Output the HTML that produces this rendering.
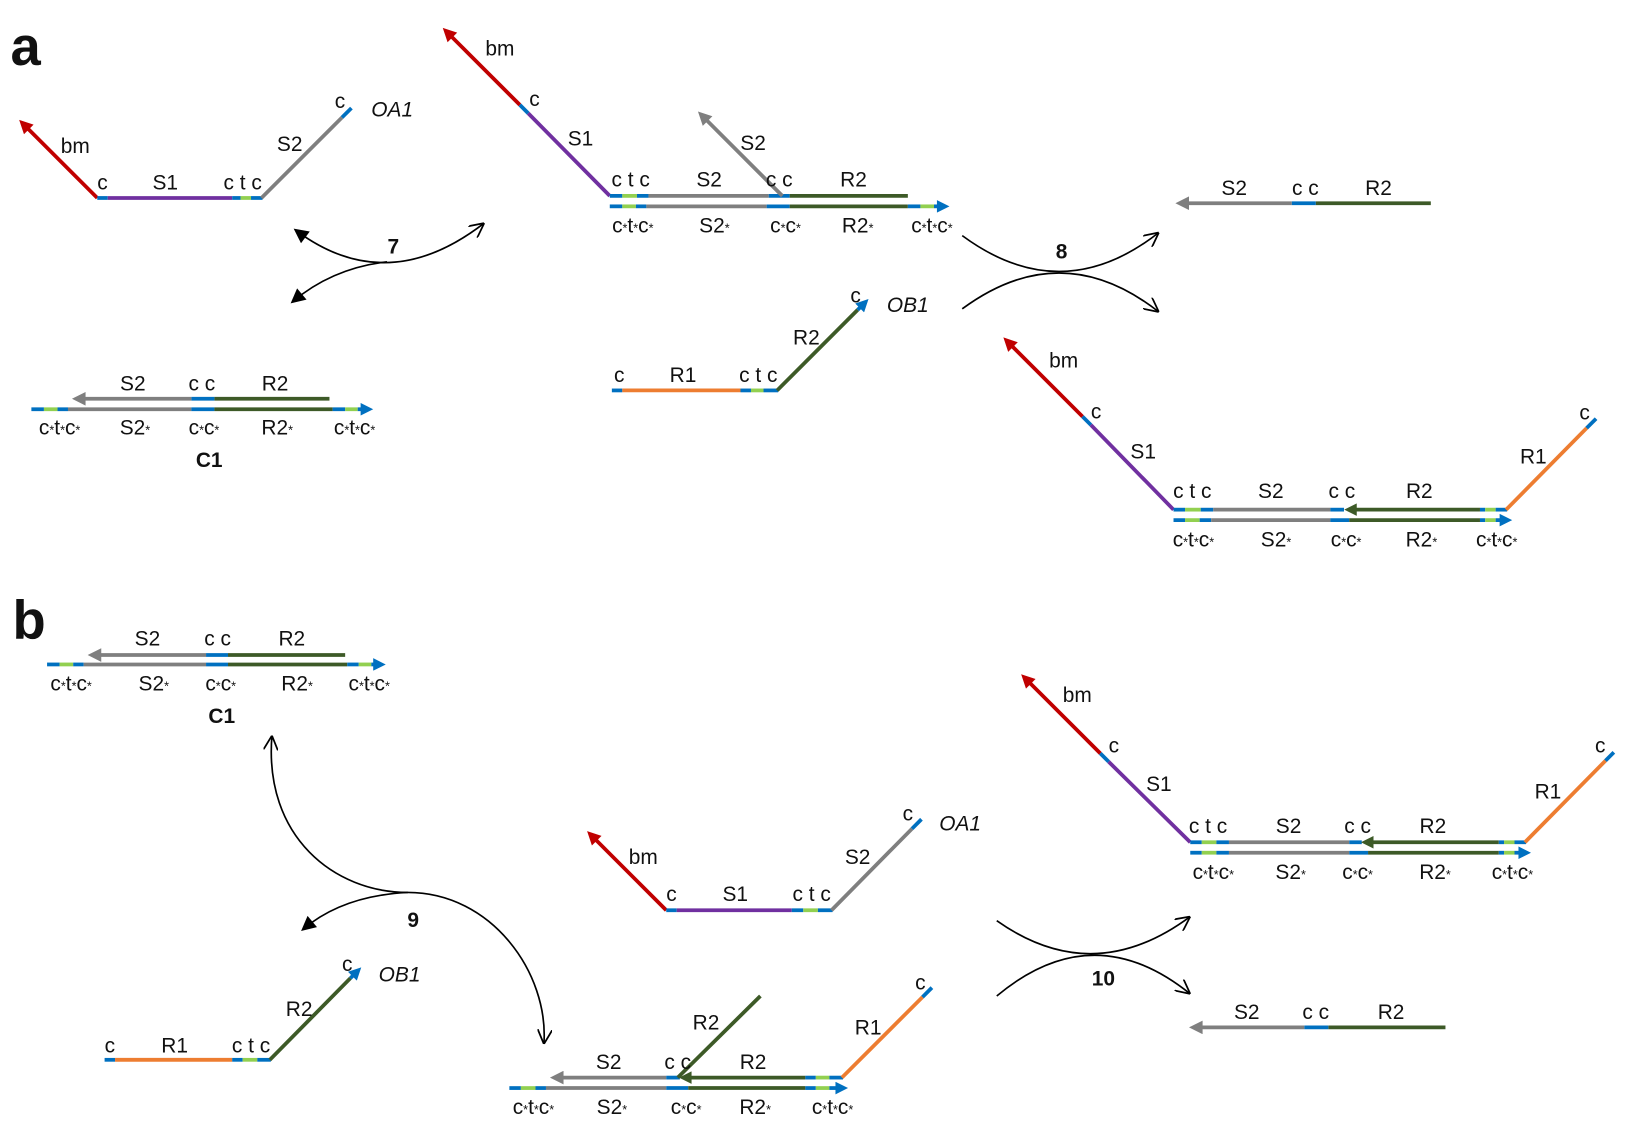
<!DOCTYPE html>
<html><head><meta charset="utf-8"><style>
html,body{margin:0;padding:0;background:#fff}
svg{display:block}
text{font-family:"Liberation Sans",sans-serif;font-size:20px;fill:#111;text-anchor:middle}
.s{font-size:12px}
.i{font-style:italic}
.b{font-weight:bold}
.L{font-weight:bold;font-size:52px;text-anchor:start}
path{fill:none;stroke-width:3.6}
.conn{stroke:#000;stroke-width:1.6}
</style></head><body>
<svg width="1640" height="1126" viewBox="0 0 1568 1076" xmlns="http://www.w3.org/2000/svg">
<defs>
<marker id="mr" viewBox="0 0 10 10" refX="6" refY="5" markerWidth="15" markerHeight="13" markerUnits="userSpaceOnUse" orient="auto"><path d="M0,0L10,5L0,10z" style="fill:#c00000;stroke:none"/></marker>
<marker id="mg" viewBox="0 0 10 10" refX="6" refY="5" markerWidth="15" markerHeight="13" markerUnits="userSpaceOnUse" orient="auto"><path d="M0,0L10,5L0,10z" style="fill:#7f7f7f;stroke:none"/></marker>
<marker id="mb" viewBox="0 0 10 10" refX="6" refY="5" markerWidth="14" markerHeight="12" markerUnits="userSpaceOnUse" orient="auto"><path d="M0,0L10,5L0,10z" style="fill:#0070c0;stroke:none"/></marker>
<marker id="md" viewBox="0 0 10 10" refX="6" refY="5" markerWidth="14" markerHeight="12" markerUnits="userSpaceOnUse" orient="auto"><path d="M0,0L10,5L0,10z" style="fill:#3d5a27;stroke:none"/></marker>
<marker id="kf" viewBox="0 0 10 10" refX="8" refY="5" markerWidth="16" markerHeight="14" markerUnits="userSpaceOnUse" orient="auto-start-reverse"><path d="M0,0L10,5L0,10z" style="fill:#000;stroke:none"/></marker>
<marker id="ko" viewBox="0 0 10 10" refX="10" refY="5" markerWidth="14" markerHeight="14" markerUnits="userSpaceOnUse" orient="auto-start-reverse"><path d="M0,0L10,5L0,10" style="fill:none;stroke:#000;stroke-width:1.2"/></marker>
</defs>

<text x="10" y="62" class="L">a</text>
<text x="12" y="610" class="L">b</text>

<path d="M93,189L22,118" stroke="#c00000" marker-end="url(#mr)"/>
<path d="M93,189H103" stroke="#0070c0"/><path d="M103,189H222" stroke="#7030a0"/>
<path d="M222,189H230" stroke="#0070c0"/><path d="M230,189H240" stroke="#92d050"/><path d="M240,189H251" stroke="#0070c0"/>
<path d="M250,189L327,112" stroke="#7f7f7f"/><path d="M327,112L336,103" stroke="#0070c0"/>
<text x="72" y="146">bm</text><text x="98" y="181">c</text><text x="158" y="181">S1</text><text x="232" y="181">c t c</text>
<text x="277" y="144">S2</text><text x="325" y="103">c</text><text x="375" y="111" class="i">OA1</text>

<path class="conn" d="M283,220Q370,285 463,213" marker-start="url(#kf)" marker-end="url(#ko)"/>
<path class="conn" d="M370,250Q318,256 280,288" marker-end="url(#kf)"/>
<text x="376" y="242" class="b">7</text>

<path d="M315,381H205" stroke="#3d5a27"/><path d="M205,381H183" stroke="#0070c0"/><path d="M183,381H74" stroke="#7f7f7f" marker-end="url(#mg)"/>
<path d="M30,391H42" stroke="#0070c0"/><path d="M42,391H55" stroke="#92d050"/><path d="M55,391H65" stroke="#0070c0"/><path d="M65,391H183" stroke="#7f7f7f"/><path d="M183,391H205" stroke="#0070c0"/><path d="M205,391H318" stroke="#3d5a27"/><path d="M318,391H330" stroke="#0070c0"/><path d="M330,391H342" stroke="#92d050"/><path d="M342,391H352" stroke="#0070c0" marker-end="url(#mb)"/>
<text x="127" y="373">S2</text><text x="193" y="373">c c</text><text x="263" y="373">R2</text>
<text x="57" y="415">c<tspan class="s">*</tspan>t<tspan class="s">*</tspan>c<tspan class="s">*</tspan></text>
<text x="129" y="415">S2<tspan class="s">*</tspan></text>
<text x="195" y="415">c<tspan class="s">*</tspan>c<tspan class="s">*</tspan></text>
<text x="265" y="415">R2<tspan class="s">*</tspan></text>
<text x="339" y="415">c<tspan class="s">*</tspan>t<tspan class="s">*</tspan>c<tspan class="s">*</tspan></text>
<text x="200" y="446" class="b">C1</text>

<path d="M497,100L427,30" stroke="#c00000" marker-end="url(#mr)"/>
<path d="M505,108L497,100" stroke="#0070c0"/><path d="M583,187L505,108" stroke="#7030a0"/>
<path d="M583,187H595" stroke="#0070c0"/><path d="M595,187H609" stroke="#92d050"/><path d="M609,187H620" stroke="#0070c0"/><path d="M620,187H735" stroke="#7f7f7f"/><path d="M735,187H755" stroke="#0070c0"/><path d="M755,187H868" stroke="#3d5a27"/>
<path d="M748,187L671,110" stroke="#7f7f7f" marker-end="url(#mg)"/>
<path d="M583,197H595" stroke="#0070c0"/><path d="M595,197H608" stroke="#92d050"/><path d="M608,197H618" stroke="#0070c0"/><path d="M618,197H733" stroke="#7f7f7f"/><path d="M733,197H755" stroke="#0070c0"/><path d="M755,197H868" stroke="#3d5a27"/><path d="M868,197H880" stroke="#0070c0"/><path d="M880,197H893" stroke="#92d050"/><path d="M893,197H903" stroke="#0070c0" marker-end="url(#mb)"/>
<text x="478" y="53">bm</text><text x="511" y="101">c</text><text x="555" y="139">S1</text>
<text x="603" y="178">c t c</text><text x="678" y="178">S2</text><text x="720" y="143">S2</text><text x="745" y="178">c c</text><text x="816" y="178">R2</text>
<text x="605" y="222">c<tspan class="s">*</tspan>t<tspan class="s">*</tspan>c<tspan class="s">*</tspan></text>
<text x="683" y="222">S2<tspan class="s">*</tspan></text>
<text x="751" y="222">c<tspan class="s">*</tspan>c<tspan class="s">*</tspan></text>
<text x="820" y="222">R2<tspan class="s">*</tspan></text>
<text x="891" y="222">c<tspan class="s">*</tspan>t<tspan class="s">*</tspan>c<tspan class="s">*</tspan></text>

<path class="conn" d="M920,225Q1015,295 1108,222" marker-end="url(#ko)"/>
<path class="conn" d="M920,295Q1015,225 1108,298" marker-end="url(#ko)"/>
<text x="1015" y="247" class="b">8</text>

<path d="M1368,194H1258" stroke="#3d5a27"/><path d="M1258,194H1235" stroke="#0070c0"/><path d="M1235,194H1129" stroke="#7f7f7f" marker-end="url(#mg)"/>
<text x="1180" y="186">S2</text><text x="1248" y="186">c c</text><text x="1318" y="186">R2</text>

<path d="M585,373H595" stroke="#0070c0"/><path d="M595,373H708" stroke="#ed7d31"/><path d="M708,373H718" stroke="#0070c0"/><path d="M718,373H730" stroke="#92d050"/><path d="M730,373H744" stroke="#0070c0"/>
<path d="M743,373L820,296" stroke="#3d5a27"/><path d="M820,296L827,289" stroke="#0070c0" marker-end="url(#mb)"/>
<text x="592" y="365">c</text><text x="653" y="365">R1</text><text x="725" y="365">c t c</text><text x="771" y="329">R2</text><text x="818" y="289">c</text><text x="868" y="298" class="i">OB1</text>

<path d="M1035,398L963,326" stroke="#c00000" marker-end="url(#mr)"/>
<path d="M1043,406L1035,398" stroke="#0070c0"/><path d="M1122,487L1043,406" stroke="#7030a0"/>
<path d="M1122,487H1133" stroke="#0070c0"/><path d="M1133,487H1148" stroke="#92d050"/><path d="M1148,487H1160" stroke="#0070c0"/><path d="M1160,487H1272" stroke="#7f7f7f"/><path d="M1272,487H1285" stroke="#0070c0"/>
<path d="M1415,487H1290" stroke="#3d5a27" marker-end="url(#md)"/><path d="M1415,487H1420" stroke="#0070c0"/><path d="M1420,487H1430" stroke="#92d050"/><path d="M1430,487H1441" stroke="#0070c0"/>
<path d="M1440,487L1517,409" stroke="#ed7d31"/><path d="M1517,409L1526,400" stroke="#0070c0"/>
<path d="M1122,497H1133" stroke="#0070c0"/><path d="M1133,497H1147" stroke="#92d050"/><path d="M1147,497H1158" stroke="#0070c0"/><path d="M1158,497H1272" stroke="#7f7f7f"/><path d="M1272,497H1290" stroke="#0070c0"/><path d="M1290,497H1415" stroke="#3d5a27"/><path d="M1415,497H1420" stroke="#0070c0"/><path d="M1420,497H1430" stroke="#92d050"/><path d="M1430,497H1441" stroke="#0070c0" marker-end="url(#mb)"/>
<text x="1017" y="351">bm</text><text x="1048" y="400">c</text><text x="1093" y="438">S1</text>
<text x="1140" y="476">c t c</text><text x="1215" y="476">S2</text><text x="1283" y="476">c c</text><text x="1357" y="476">R2</text><text x="1466" y="443">R1</text><text x="1515" y="401">c</text>
<text x="1141" y="522">c<tspan class="s">*</tspan>t<tspan class="s">*</tspan>c<tspan class="s">*</tspan></text>
<text x="1220" y="522">S2<tspan class="s">*</tspan></text>
<text x="1287" y="522">c<tspan class="s">*</tspan>c<tspan class="s">*</tspan></text>
<text x="1359" y="522">R2<tspan class="s">*</tspan></text>
<text x="1431" y="522">c<tspan class="s">*</tspan>t<tspan class="s">*</tspan>c<tspan class="s">*</tspan></text>

<path d="M330,626H218" stroke="#3d5a27"/><path d="M218,626H197" stroke="#0070c0"/><path d="M197,626H89" stroke="#7f7f7f" marker-end="url(#mg)"/>
<path d="M45,635H57" stroke="#0070c0"/><path d="M57,635H70" stroke="#92d050"/><path d="M70,635H80" stroke="#0070c0"/><path d="M80,635H197" stroke="#7f7f7f"/><path d="M197,635H218" stroke="#0070c0"/><path d="M218,635H332" stroke="#3d5a27"/><path d="M332,635H343" stroke="#0070c0"/><path d="M343,635H355" stroke="#92d050"/><path d="M355,635H364" stroke="#0070c0" marker-end="url(#mb)"/>
<text x="141" y="617">S2</text><text x="208" y="617">c c</text><text x="279" y="617">R2</text>
<text x="68" y="660">c<tspan class="s">*</tspan>t<tspan class="s">*</tspan>c<tspan class="s">*</tspan></text>
<text x="147" y="660">S2<tspan class="s">*</tspan></text>
<text x="211" y="660">c<tspan class="s">*</tspan>c<tspan class="s">*</tspan></text>
<text x="284" y="660">R2<tspan class="s">*</tspan></text>
<text x="353" y="660">c<tspan class="s">*</tspan>t<tspan class="s">*</tspan>c<tspan class="s">*</tspan></text>
<text x="212" y="691" class="b">C1</text>

<path class="conn" d="M260,703C252,800 320,853 390,853C470,853 525,930 520,998" marker-start="url(#ko)" marker-end="url(#ko)"/>
<path class="conn" d="M390,853Q328,856 290,888" marker-end="url(#kf)"/>
<text x="395" y="886" class="b">9</text>

<path d="M637,870L565,798" stroke="#c00000" marker-end="url(#mr)"/>
<path d="M637,870H647" stroke="#0070c0"/><path d="M647,870H757" stroke="#7030a0"/><path d="M757,870H768" stroke="#0070c0"/><path d="M768,870H782" stroke="#92d050"/><path d="M782,870H796" stroke="#0070c0"/>
<path d="M795,870L872,792" stroke="#7f7f7f"/><path d="M872,792L881,783" stroke="#0070c0"/>
<text x="615" y="826">bm</text><text x="642" y="861">c</text><text x="703" y="861">S1</text><text x="776" y="861">c t c</text><text x="820" y="826">S2</text><text x="868" y="784">c</text><text x="918" y="794" class="i">OA1</text>

<path d="M100,1013H110" stroke="#0070c0"/><path d="M110,1013H222" stroke="#ed7d31"/><path d="M222,1013H232" stroke="#0070c0"/><path d="M232,1013H246" stroke="#92d050"/><path d="M246,1013H259" stroke="#0070c0"/>
<path d="M258,1013L335,935" stroke="#3d5a27"/><path d="M335,935L342,928" stroke="#0070c0" marker-end="url(#mb)"/>
<text x="105" y="1006">c</text><text x="167" y="1006">R1</text><text x="240" y="1006">c t c</text><text x="286" y="971">R2</text><text x="332" y="928">c</text><text x="382" y="938" class="i">OB1</text>

<path d="M637,1030H531" stroke="#7f7f7f" marker-end="url(#mg)"/><path d="M637,1030H650" stroke="#0070c0"/>
<path d="M770,1030H654" stroke="#3d5a27" marker-end="url(#md)"/><path d="M770,1030H780" stroke="#0070c0"/><path d="M780,1030H793" stroke="#92d050"/><path d="M793,1030H806" stroke="#0070c0"/>
<path d="M648,1030L727,952" stroke="#3d5a27"/>
<path d="M805,1030L882,953" stroke="#ed7d31"/><path d="M882,953L891,944" stroke="#0070c0"/>
<path d="M487,1040H498" stroke="#0070c0"/><path d="M498,1040H512" stroke="#92d050"/><path d="M512,1040H522" stroke="#0070c0"/><path d="M522,1040H637" stroke="#7f7f7f"/><path d="M637,1040H658" stroke="#0070c0"/><path d="M658,1040H770" stroke="#3d5a27"/><path d="M770,1040H780" stroke="#0070c0"/><path d="M780,1040H793" stroke="#92d050"/><path d="M793,1040H806" stroke="#0070c0" marker-end="url(#mb)"/>
<text x="582" y="1022">S2</text><text x="648" y="1022">c c</text><text x="675" y="984">R2</text><text x="720" y="1022">R2</text><text x="830" y="989">R1</text><text x="880" y="946">c</text>
<text x="510" y="1065">c<tspan class="s">*</tspan>t<tspan class="s">*</tspan>c<tspan class="s">*</tspan></text>
<text x="585" y="1065">S2<tspan class="s">*</tspan></text>
<text x="656" y="1065">c<tspan class="s">*</tspan>c<tspan class="s">*</tspan></text>
<text x="722" y="1065">R2<tspan class="s">*</tspan></text>
<text x="796" y="1065">c<tspan class="s">*</tspan>t<tspan class="s">*</tspan>c<tspan class="s">*</tspan></text>

<path class="conn" d="M953,880Q1045,945 1138,876" marker-end="url(#ko)"/>
<path class="conn" d="M953,952Q1045,875 1138,950" marker-end="url(#ko)"/>
<text x="1055" y="942" class="b">10</text>

<path d="M1052,720L980,648" stroke="#c00000" marker-end="url(#mr)"/>
<path d="M1060,728L1052,720" stroke="#0070c0"/><path d="M1138,805L1060,728" stroke="#7030a0"/>
<path d="M1138,805H1149" stroke="#0070c0"/><path d="M1149,805H1163" stroke="#92d050"/><path d="M1163,805H1175" stroke="#0070c0"/><path d="M1175,805H1290" stroke="#7f7f7f"/><path d="M1290,805H1302" stroke="#0070c0"/>
<path d="M1433,805H1306" stroke="#3d5a27" marker-end="url(#md)"/><path d="M1433,805H1438" stroke="#0070c0"/><path d="M1438,805H1448" stroke="#92d050"/><path d="M1448,805H1459" stroke="#0070c0"/>
<path d="M1458,805L1535,727" stroke="#ed7d31"/><path d="M1535,727L1543,719" stroke="#0070c0"/>
<path d="M1138,815H1149" stroke="#0070c0"/><path d="M1149,815H1163" stroke="#92d050"/><path d="M1163,815H1175" stroke="#0070c0"/><path d="M1175,815H1290" stroke="#7f7f7f"/><path d="M1290,815H1308" stroke="#0070c0"/><path d="M1308,815H1433" stroke="#3d5a27"/><path d="M1433,815H1438" stroke="#0070c0"/><path d="M1438,815H1448" stroke="#92d050"/><path d="M1448,815H1459" stroke="#0070c0" marker-end="url(#mb)"/>
<text x="1030" y="671">bm</text><text x="1065" y="719">c</text><text x="1108" y="756">S1</text>
<text x="1155" y="796">c t c</text><text x="1232" y="796">S2</text><text x="1298" y="796">c c</text><text x="1370" y="796">R2</text><text x="1480" y="763">R1</text><text x="1530" y="719">c</text>
<text x="1160" y="840">c<tspan class="s">*</tspan>t<tspan class="s">*</tspan>c<tspan class="s">*</tspan></text>
<text x="1234" y="840">S2<tspan class="s">*</tspan></text>
<text x="1298" y="840">c<tspan class="s">*</tspan>c<tspan class="s">*</tspan></text>
<text x="1372" y="840">R2<tspan class="s">*</tspan></text>
<text x="1446" y="840">c<tspan class="s">*</tspan>t<tspan class="s">*</tspan>c<tspan class="s">*</tspan></text>

<path d="M1382,982H1270" stroke="#3d5a27"/><path d="M1270,982H1247" stroke="#0070c0"/><path d="M1247,982H1142" stroke="#7f7f7f" marker-end="url(#mg)"/>
<text x="1192" y="974">S2</text><text x="1258" y="974">c c</text><text x="1330" y="974">R2</text>
</svg>
</body></html>
